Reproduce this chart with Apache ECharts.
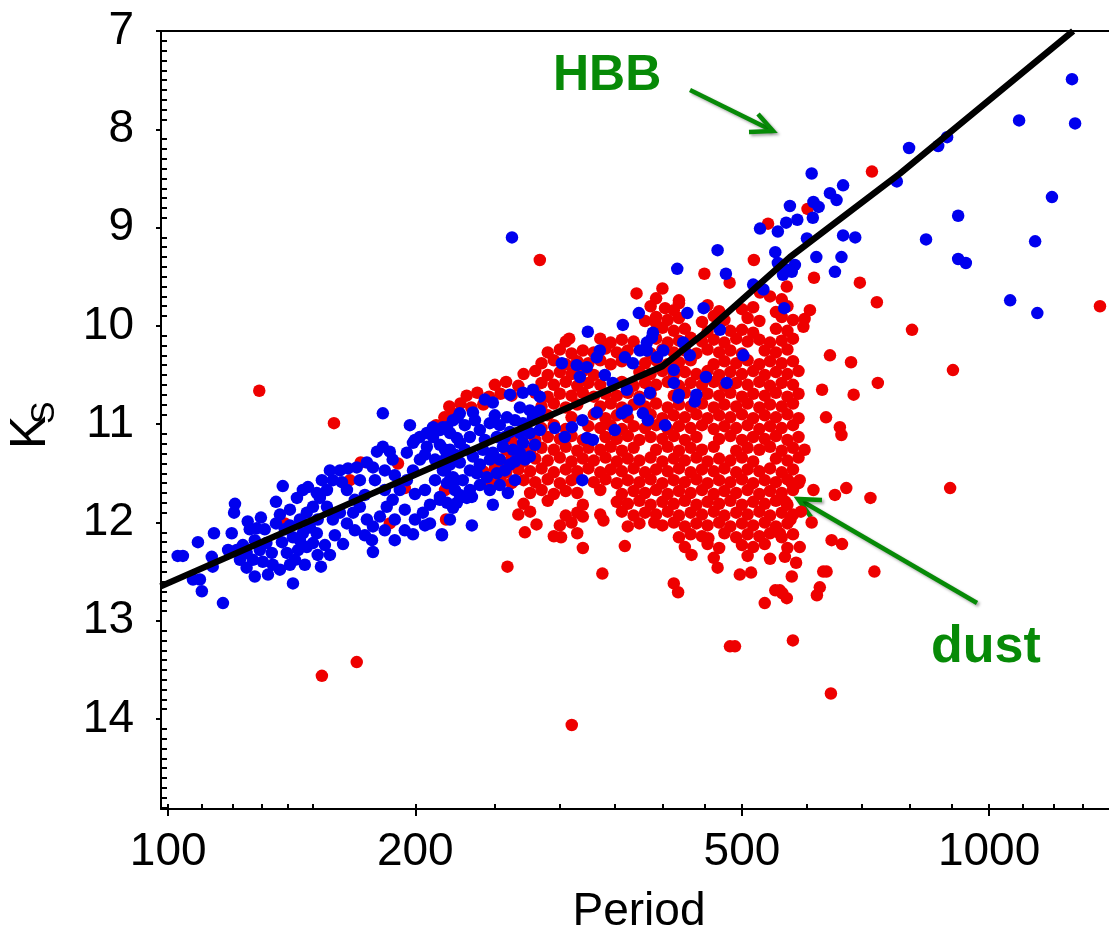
<!DOCTYPE html>
<html><head><meta charset="utf-8">
<script src="https://cdn.jsdelivr.net/npm/echarts@6/dist/echarts.min.js"></script>
<style>html,body{margin:0;padding:0;background:#fff}#c{width:1109px;height:934px}</style>
</head><body><div id="c"></div>
<script>
// ---- axis ticks ----
const xMajorTicks = [100, 200, 500, 1000];
const xMinorTicks = [110, 120, 130, 140, 150, 250, 300, 350, 400, 450, 600, 700, 800, 900, 1100, 1200, 1300];
const yMajorTicks = [7, 8, 9, 10, 11, 12, 13, 14];

// ---- period-luminosity relation (black line) [period, Ks] ----
const plRelation = [[97.9, 12.65], [400, 10.41], [452, 10.06], [572, 9.30], [779, 8.45], [1266, 7.0]];

// ---- red stars: isolated ones ----
const redScatter = [
[129.1,10.66],[159.2,10.99],[153.9,13.56],[169.7,13.42],[310.2,14.06],[641.7,13.74],[576.8,13.20],[483.5,13.26],[490.3,13.26],[1365,9.80],[896.6,11.65],[903.7,10.45],[805.7,10.04],[730,9.76],[696,9.56],[720,8.43],[283.6,9.33],[372,9.67],[392,9.96],[308,10.13],[517,9.33],[450,9.47],[612,9.51],[483,9.56],[538,8.96],[601,8.81],[567,9.60],[419,9.77],[403,9.82],[594,10.01],[640,10.30],[679,10.37],[626,10.65],[684,10.70],[633,10.93],[658,11.03],[661,11.11],[611,11.67],[649,11.72],[670,11.65],[717,11.75],[643,12.18],[662,12.22],[588,12.25],[628,12.50],[622,12.66],[617,12.74],[582,12.41],[575,12.55],[533,12.82],[556,12.69],[567,12.77],[413,12.62],[418,12.71],[467,12.46],[497,12.53],[513,12.51],[434,12.33],[455,12.16],[391,12.00],[608,12.00],[725,12.50],[634,12.50],[560,12.72],[549,12.69],[565,11.79],[573,11.97],[590,11.89],[588,11.57],[575,11.60],[556,12.11],[564,12.35],[732,10.58],[272,12.10],[259,12.45],[281,12.02],[301,12.15],[320,12.26],[338,12.52],[360,12.24],[339,11.98],[320,11.94],[218,11.97]
];
// ---- red stars peeking out of the blue band ----
const redBand = [[138.7,12.01],[153.0,11.72],[171.6,11.39],[190.5,11.40],[194.2,11.65],[186.2,12.01],[212,11.01],[219,10.93],[217.4,11.67],[166.5,11.57]];
// ---- red stars: dense cloud ----
const redCloud = [
[400,9.62],[526,9.66],
[393,9.72],[419,9.74],[541,9.70],[559,9.73],
[387,9.80],[413,9.84],[454,9.79],[469,9.85],[500,9.83],[516,9.81],[550,9.86],[568,9.80],[605,9.84],
[381,9.95],[393,9.91],[406,9.94],[419,9.92],[447,9.96],[462,9.90],[476,9.94],[508,9.92],[525,9.95],[559,9.91],[577,9.94],[596,9.93],
[400,10.02],[413,10.05],[426,10.03],[454,10.06],[469,10.02],[484,10.05],[500,10.04],[516,10.07],[550,10.03],[568,10.05],
[305,10.16],[336,10.13],[346,10.17],[357,10.14],[369,10.16],[393,10.13],[406,10.17],[419,10.15],[433,10.12],[447,10.16],[462,10.14],[476,10.17],[492,10.13],[508,10.16],[525,10.14],[541,10.17],[559,10.15],[577,10.13],
[290,10.27],[300,10.24],[310,10.28],[320,10.25],[330,10.27],[341,10.23],[352,10.27],[363,10.25],[387,10.28],[400,10.24],[413,10.27],[426,10.25],[440,10.28],[454,10.24],[469,10.27],[484,10.25],[500,10.28],[533,10.25],[550,10.27],[568,10.24],
[285,10.38],[295,10.35],[305,10.39],[315,10.36],[325,10.38],[336,10.35],[346,10.39],[357,10.36],[381,10.38],[393,10.35],[406,10.39],[419,10.37],[433,10.35],[462,10.39],[476,10.36],[492,10.38],[508,10.35],[525,10.39],[541,10.36],[559,10.38],[577,10.36],
[271,10.49],[280,10.46],[290,10.50],[300,10.47],[310,10.49],[320,10.46],[330,10.50],[375,10.47],[387,10.49],[400,10.46],[413,10.50],[426,10.47],[440,10.49],[454,10.46],[469,10.50],[484,10.47],[500,10.49],[516,10.46],[533,10.50],[550,10.47],[568,10.49],[586,10.46],
[250,10.60],[258,10.57],[267,10.61],[285,10.58],[295,10.60],[305,10.57],[315,10.61],[325,10.58],[336,10.60],[357,10.57],[369,10.61],[381,10.58],[393,10.60],[406,10.57],[419,10.61],[433,10.58],[447,10.60],[462,10.57],[476,10.61],[492,10.58],[508,10.60],[525,10.57],[541,10.61],[559,10.58],[577,10.60],
[231,10.71],[238,10.68],[246,10.72],[254,10.69],[262,10.71],[280,10.68],[290,10.72],[300,10.69],[310,10.71],[320,10.68],[330,10.72],[341,10.69],[352,10.71],[363,10.68],[375,10.72],[387,10.69],[413,10.71],[426,10.68],[440,10.72],[454,10.69],[469,10.71],[484,10.68],[500,10.72],[516,10.69],[533,10.71],[550,10.68],[568,10.72],[586,10.69],
[220,10.82],[227,10.79],[234,10.83],[242,10.80],[285,10.82],[295,10.79],[305,10.83],[315,10.80],[336,10.82],[346,10.79],[357,10.83],[369,10.80],[381,10.82],[393,10.79],[406,10.83],[419,10.80],[433,10.82],[447,10.79],[462,10.83],[476,10.80],[492,10.82],[508,10.79],[525,10.83],[541,10.80],[559,10.82],[577,10.79],
[217,10.93],[224,10.90],[280,10.94],[290,10.91],[310,10.93],[330,10.90],[341,10.94],[352,10.91],[363,10.93],[387,10.90],[400,10.94],[413,10.91],[426,10.93],[440,10.90],[454,10.94],[469,10.91],[484,10.93],[500,10.90],[516,10.94],[533,10.91],[550,10.93],[568,10.90],[586,10.94],
[285,11.04],[295,11.01],[305,11.05],[325,11.02],[336,11.04],[346,11.01],[357,11.05],[369,11.02],[381,11.04],[393,11.01],[406,11.05],[419,11.02],[433,11.04],[447,11.01],[462,11.05],[476,11.02],[492,11.04],[508,11.01],[525,11.05],[541,11.02],[559,11.04],[577,11.01],
[262,11.15],[271,11.12],[280,11.16],[290,11.13],[300,11.15],[310,11.12],[320,11.16],[341,11.13],[352,11.15],[363,11.12],[375,11.16],[387,11.13],[400,11.15],[413,11.12],[426,11.16],[440,11.13],[469,11.15],[484,11.12],[500,11.16],[516,11.13],[533,11.15],[550,11.12],[568,11.16],[586,11.13],
[258,11.26],[267,11.23],[276,11.27],[285,11.24],[295,11.26],[305,11.23],[315,11.27],[325,11.24],[336,11.26],[346,11.23],[357,11.27],[369,11.24],[393,11.26],[406,11.23],[419,11.27],[433,11.24],[447,11.26],[462,11.23],[492,11.27],[508,11.24],[525,11.26],[541,11.23],[559,11.27],[577,11.24],[596,11.26],
[254,11.37],[262,11.34],[271,11.38],[280,11.35],[290,11.37],[300,11.34],[310,11.38],[320,11.35],[330,11.37],[341,11.34],[352,11.38],[363,11.35],[375,11.37],[387,11.34],[400,11.38],[413,11.35],[426,11.37],[440,11.34],[454,11.38],[469,11.35],[484,11.37],[500,11.34],[516,11.38],[550,11.35],[568,11.37],[586,11.34],
[242,11.48],[250,11.45],[258,11.49],[267,11.46],[276,11.48],[285,11.45],[295,11.49],[305,11.46],[315,11.48],[325,11.45],[336,11.49],[346,11.46],[357,11.48],[369,11.45],[381,11.49],[393,11.46],[406,11.48],[419,11.45],[433,11.49],[447,11.46],[462,11.48],[476,11.45],[492,11.49],[508,11.46],[525,11.48],[541,11.45],[559,11.49],[577,11.46],
[246,11.59],[254,11.56],[262,11.60],[271,11.57],[280,11.59],[290,11.56],[300,11.60],[310,11.57],[330,11.59],[341,11.56],[352,11.60],[363,11.57],[375,11.59],[387,11.56],[400,11.60],[413,11.57],[426,11.59],[440,11.56],[454,11.60],[469,11.57],[484,11.59],[500,11.56],[516,11.60],[533,11.57],[550,11.59],[568,11.56],[586,11.60],
[276,11.70],[285,11.67],[295,11.71],[305,11.68],[315,11.70],[336,11.67],[357,11.71],[369,11.68],[381,11.70],[393,11.67],[406,11.71],[419,11.68],[433,11.70],[447,11.67],[462,11.71],[476,11.68],[492,11.70],[508,11.67],[525,11.71],[541,11.68],[559,11.70],[577,11.67],
[271,11.81],[290,11.78],[320,11.82],[352,11.79],[363,11.81],[375,11.78],[387,11.82],[400,11.79],[413,11.81],[426,11.78],[440,11.82],[454,11.79],[469,11.81],[484,11.78],[500,11.82],[516,11.79],[533,11.81],[550,11.78],[568,11.82],
[267,11.92],[276,11.89],[305,11.93],[315,11.90],[336,11.92],[357,11.89],[369,11.93],[381,11.90],[393,11.92],[406,11.89],[419,11.93],[433,11.90],[447,11.92],[462,11.89],[476,11.93],[492,11.90],[508,11.92],[525,11.89],[541,11.93],[559,11.90],[577,11.92],
[300,12.03],[310,12.00],[363,12.04],[375,12.01],[400,12.03],[413,12.00],[426,12.04],[440,12.01],[454,12.03],[469,12.00],[484,12.04],[500,12.01],[516,12.03],[533,12.00],[550,12.04],[568,12.01],
[295,12.14],[315,12.11],[419,12.15],[433,12.12],[447,12.14],[476,12.11],[492,12.15],[508,12.12],[525,12.14],[541,12.11],[559,12.15],[577,12.12],
[426,12.25],[454,12.22],[469,12.26],[500,12.23],[516,12.25],[533,12.22],[568,12.26],
[462,12.36],[508,12.34],[541,12.37]
];

// ---- blue stars ----
const blueBand = [
[102.7,12.34],[104.2,12.34],[108.7,12.20],[113.7,12.11],[119.5,12.11],[120.6,11.81],[120.3,11.90],[113.0,12.35],[113.3,12.45],[107.2,12.58],[109.3,12.58],[109.9,12.70],[116.6,12.82],[121.2,12.28],[123.3,12.23],[124.6,12.31],[122.3,12.38],[124.6,12.46],[127.5,12.55],[129.3,12.28],[131.7,12.21],[133.7,12.31],[134.1,12.43],[130.4,12.40],[126.8,12.38],[135.3,11.79],[137.9,11.63],[135.3,12.01],[139.5,12.31],[141.9,12.62],[153.5,12.45],[143.5,11.75],[145.9,11.67],[148.0,11.64],[144.7,11.97],[147.5,11.90],[150.1,11.84],[153.0,11.75],[151.7,11.70],[141.9,12.15],[144.7,12.18],[147.5,12.25],[150.1,12.21],[145.9,12.11],[151.7,12.11],[148.8,12.05],[153.9,11.57],[156.1,11.67],[158.7,11.57],[157.4,11.47],[161.9,11.47],[165.6,11.45],[169.7,11.44],[174.6,11.39],[179.6,11.28],[182.6,11.23],[186.2,11.28],[162.8,11.59],[163.3,12.22],[177.1,12.18],[177.6,12.30],[156.1,11.84],[158.7,11.97],[161.9,11.90],[165.1,12.01],[168.0,11.90],[171.2,11.84],[174.6,11.97],[177.6,12.04],[181.1,11.94],[184.6,11.84],[187.7,11.77],[191.5,11.67],[195.3,11.57],[198.7,11.47],[202.6,11.36],[206.6,11.23],[210.2,11.13],[214.3,11.06],[218.6,11.03],[222.3,10.96],[226.6,10.89],[165.1,11.67],[171.2,11.57],[177.6,11.44],[187.7,11.36],[195.3,11.29],[198.7,11.19],[202.6,11.13],[206.6,11.09],[210.2,11.03],[216.1,11.03],[220.4,11.09],[224.7,11.14],[182.6,10.89],[215.5,12.12],[198.7,12.12],[204.3,11.90],[208.4,12.01],[222.3,11.85],[188.8,11.97],[194.2,11.87],[199.8,11.71],[205.5,11.67],[211.4,11.57],[217.4,11.47],[223.5,11.57],[214.3,11.77],[226.6,11.72],[183.6,12.08],
[131.1,12.07],[138.7,12.07],[140.7,11.87],[136.8,12.48],[142.7,12.38],[125.7,12.07],[118.3,12.28],
[127.5,12.18],[137.6,12.20],[140.7,12.43],[132.3,12.53],[155.2,12.23],[159.6,12.13],[157.4,12.33],[152.1,11.97],
[125.0,11.99],[128.2,12.06],[129.7,11.95],[136.8,11.92],[140.7,12.03],[144.0,12.28],[152.1,12.33],[146.7,12.43],
[168.8,12.08],[173.6,12.13],[183.6,11.67],[178.6,11.57],[188.8,11.52],[183.6,11.47],[168.8,11.77],[173.6,11.72],[188.8,12.18],[194.2,12.08],
[197.0,11.01],[199.8,11.16],[205.5,11.31],[211.4,11.36],[217.4,11.26],[220.4,11.57],[199.8,11.97],[205.5,12.03],[208.4,11.82],[220.4,11.97],
[235.1,10.88],[225.3,10.93],[248.6,10.78],[270.5,10.68],[278.2,10.65],[283.6,10.72],[268.2,10.83],[258.6,10.93],[246.5,10.99],[239.7,11.06],[251.4,11.13],[260.8,11.08],[270.5,10.99],[278.2,10.93],[226.6,11.19],[233.1,11.13],[220.4,11.26],[226.6,11.39],[235.1,11.33],[241.8,11.26],[248.6,11.29],[255.7,11.23],[263.0,11.26],[270.5,11.19],[275.8,11.09],[216.1,11.47],[222.3,11.54],[228.5,11.57],[237.7,11.50],[244.5,11.54],[251.4,11.50],[218.6,11.60],[268.2,11.29],[275.8,11.33],[214.3,11.74],[218.6,11.80],[224.7,11.80],[231.1,11.75],[234.4,11.74],[248.6,11.82],[259.3,11.70],[234.4,12.03],[215.5,12.13],
[229.8,11.01],[236.4,10.96],[253.5,11.01],[264.5,10.96],[283.6,10.86],[243.1,11.16],[257.1,11.13],[268.2,11.09],[229.8,11.26],[253.5,11.36],[260.8,11.41],[233.1,11.67],[239.7,11.62],[246.5,11.67],[253.5,11.62],[264.5,11.57],[223.5,11.67],[217.4,11.36],[223.5,11.31],[214.3,11.21],[220.4,11.41],
[243.1,10.75],[260.8,10.70],[250.0,10.91],[275.8,10.86],[246.5,11.36],[239.7,11.41],[257.1,11.47],[264.5,11.38],[272.0,11.36],[279.7,11.21],[283.6,11.06],[233.1,11.47]
];
const blueCloud = [
[301.7,10.38],[314.6,10.40],[323.6,10.42],[332.7,10.32],[335.6,10.25],[317.3,10.52],[340.3,10.50],[360.0,10.32],[368.2,10.38],[375.5,10.25],[382.9,10.17],[389.5,10.07],[388.4,10.12],[295.8,11.04],[304.2,11.13],[310.3,11.03],[319.6,10.96],[332.7,10.88],[323.6,11.14],[329.1,11.16],[350.0,11.06],[357.0,10.89],[362.0,10.86],[378.7,10.89],[384.0,10.96],[386.2,10.68],[348.0,10.58],[362.0,10.65],[319.5,11.57],[374.4,9.87],[358.0,9.99],[324.5,10.06],[262.3,9.10],
[608,8.45],[664,8.57],[640,8.65],[652,8.72],[611,8.74],[620,8.79],[572,8.78],[610,8.90],[584,8.92],[566,8.95],[526,9.01],[553,9.04],[664,9.08],[687,9.10],[600,9.11],[467,9.23],[549,9.25],[616,9.30],[661,9.30],[580,9.38],[567,9.43],[553,9.36],[575,9.45],[417,9.42],[649,9.45],[478,9.47],[561,9.48],[516,9.58],[531,9.63],[563,9.82],[449,9.82],[429,9.87],[470,10.04],[383,10.25],[401,10.25],[394,10.32],[424,10.17],[432,10.30],[502,10.30],[413,10.45],[452,10.52],[479,10.58],[413,10.58],[419,10.70],[418,10.73],[440,10.70],[438,10.77],[375,10.75],[403,11.01]
];
const blueBright = [
[1262,7.49],[1088,7.91],[1273,7.94],[799,8.19],[867,8.17],[889,8.08],[1193,8.69],[917,8.88],[838,9.12],[1138,9.14],[917,9.32],[937,9.36],[1061,9.74],[1145,9.87],[772,8.53]
];

const yMinorTicks = [];
for (let i = 71; i <= 149; i++) { if (i % 10 !== 0) yMinorTicks.push(i / 10); }

const FONT = '"Liberation Sans", Arial, sans-serif';
const GREEN = '#078a07';
const X_MIN = 98, X_MAX = 1400, Y_MIN = 7, Y_MAX = 14.915;
const DOT = 12.5;

const chart = echarts.init(document.getElementById('c'), null, { renderer: 'canvas' });
const arrowStyle = { stroke: GREEN, lineWidth: 4.5, lineCap: 'butt', fill: null,
  shadowBlur: 3, shadowColor: 'rgba(0,0,0,0.35)', shadowOffsetX: 2, shadowOffsetY: 2 };

chart.setOption({
  animation: false,
  backgroundColor: '#fff',
  textStyle: { fontFamily: FONT },
  grid: { left: 161, right: 0, top: 31, bottom: 125, containLabel: false, outerBoundsMode: 'none' },
  xAxis: [
    { type: 'log', logBase: 10, min: X_MIN, max: X_MAX, position: 'bottom',
      axisLine: { show: true, onZero: false, lineStyle: { color: '#000', width: 2 } },
      axisTick: { show: true, inside: false, length: 7, customValues: xMajorTicks, lineStyle: { color: '#000', width: 2 } },
      axisLabel: { show: true, customValues: xMajorTicks, formatter: v => String(Math.round(v)), fontSize: 46, color: '#000', margin: 20, fontFamily: FONT },
      splitLine: { show: false }, minorTick: { show: false },
      name: 'Period', nameLocation: 'middle', nameGap: 80,
      nameTextStyle: { fontSize: 46, color: '#000', fontFamily: FONT, padding: [0, 0, 0, 8] } },
    { type: 'log', logBase: 10, min: X_MIN, max: X_MAX, position: 'bottom',
      axisLine: { show: false },
      axisTick: { show: true, inside: true, length: 5, customValues: xMajorTicks.concat(xMinorTicks), lineStyle: { color: '#000', width: 2 } },
      axisLabel: { show: false }, splitLine: { show: false } },
    { type: 'log', logBase: 10, min: X_MIN, max: X_MAX, position: 'top',
      axisLine: { show: true, onZero: false, lineStyle: { color: '#000', width: 2 } },
      axisTick: { show: false }, axisLabel: { show: false }, splitLine: { show: false } }
  ],
  yAxis: [
    { type: 'value', inverse: true, min: Y_MIN, max: Y_MAX, position: 'left',
      axisLine: { show: true, onZero: false, lineStyle: { color: '#000', width: 2 } },
      axisTick: { show: true, inside: false, length: 5, customValues: yMajorTicks, lineStyle: { color: '#000', width: 2 } },
      axisLabel: { show: true, customValues: yMajorTicks, fontSize: 46, color: '#000', margin: 27, fontFamily: FONT },
      splitLine: { show: false } },
    { type: 'value', inverse: true, min: Y_MIN, max: Y_MAX, position: 'left',
      axisLine: { show: false },
      axisTick: { show: true, inside: true, length: 6, customValues: yMinorTicks, lineStyle: { color: '#000', width: 2 } },
      axisLabel: { show: false }, splitLine: { show: false } }
  ],
  series: [
    { name: 'red', type: 'scatter', xAxisIndex: 0, yAxisIndex: 0, symbol: 'circle', symbolSize: DOT,
      itemStyle: { color: '#ee0000', opacity: 1 }, z: 2, silent: true,
      data: redScatter.concat(redBand, redCloud) },
    { name: 'blue', type: 'scatter', xAxisIndex: 0, yAxisIndex: 0, symbol: 'circle', symbolSize: DOT,
      itemStyle: { color: '#0000ee', opacity: 1 }, z: 3, silent: true,
      data: blueBand.concat(blueCloud, blueBright) },
    { name: 'PL', type: 'line', xAxisIndex: 0, yAxisIndex: 0, data: plRelation, symbol: 'none',
      lineStyle: { color: '#000', width: 6.5 }, z: 5, silent: true }
  ],
  graphic: [
    { type: 'group', x: 31.5, y: 449, rotation: Math.PI / 2, children: [
      { type: 'text', x: 0, y: 0, style: { text: 'K', font: '50px ' + FONT, fill: '#000', align: 'left', textAlign: 'left', verticalAlign: 'middle', textVerticalAlign: 'middle' } },
      { type: 'text', x: 25, y: 13, style: { text: 'S', font: '34px ' + FONT, fill: '#000', align: 'left', textAlign: 'left', verticalAlign: 'middle', textVerticalAlign: 'middle' } }
    ] },
    { type: 'text', x: 553, y: 51, style: { text: 'HBB', font: 'bold 50px ' + FONT, fill: GREEN, align: 'left', textAlign: 'left', verticalAlign: 'top', textVerticalAlign: 'top' } },
    { type: 'text', x: 931, y: 622, style: { text: 'dust', font: 'bold 52px ' + FONT, fill: GREEN, align: 'left', textAlign: 'left', verticalAlign: 'top', textVerticalAlign: 'top' } },
    { type: 'line', shape: { x1: 690, y1: 90, x2: 771, y2: 130 }, style: arrowStyle },
    { type: 'polyline', shape: { points: [[758, 114], [773, 131], [749, 132]] }, style: arrowStyle },
    { type: 'line', shape: { x1: 977, y1: 603, x2: 800, y2: 500 }, style: arrowStyle },
    { type: 'polyline', shape: { points: [[822, 500], [798, 499], [811, 517]] }, style: arrowStyle }
  ]
});
</script>
</body></html>
